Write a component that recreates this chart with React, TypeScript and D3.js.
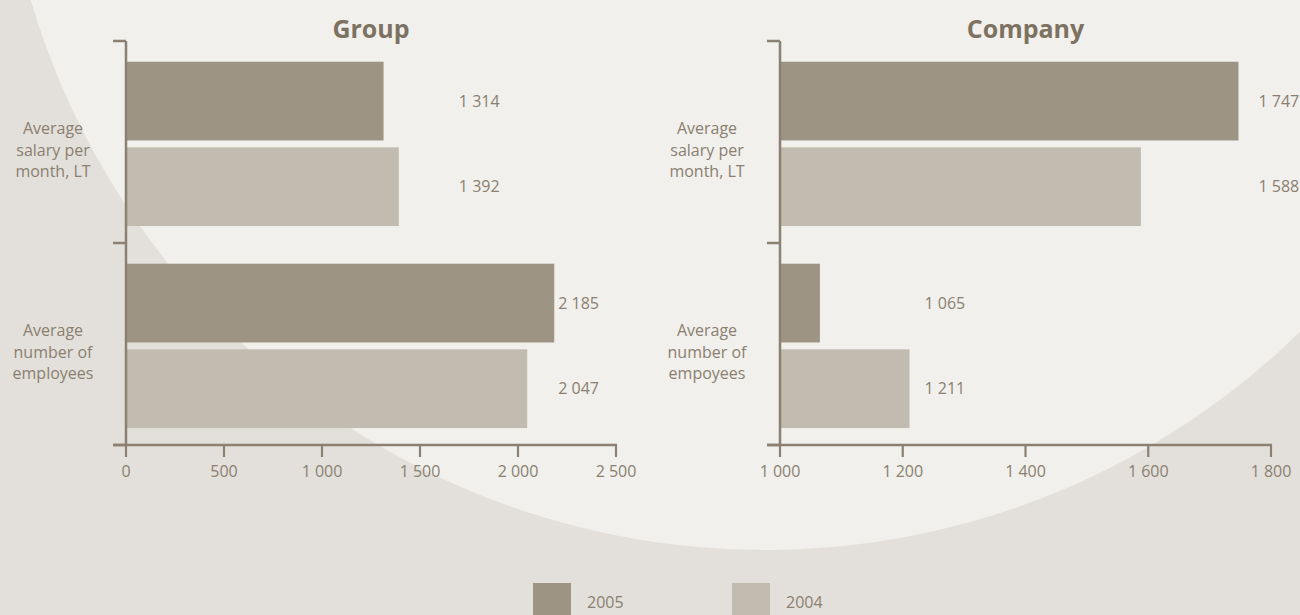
import { formatLocale, max, scaleBand, scaleLinear } from 'd3';

const series = ['2005', '2004'];
const categories = ['salary', 'employees'];

const groupCategoryLines = [
  ['Average', 'salary per', 'month, LT'],
  ['Average', 'number of', 'employees'],
];
const companyCategoryLines = [
  ['Average', 'salary per', 'month, LT'],
  ['Average', 'number of', 'empoyees'],
];

const group2005 = [1314, 2185];
const group2004 = [1392, 2047];
const company2005 = [1747, 1065];
const company2004 = [1588, 1211];

const groupTicks = [0, 500, 1000, 1500, 2000, 2500];
const companyTicks = [1000, 1200, 1400, 1600, 1800];

const W = 1300;
const H = 615;
const FONT = "'Open Sans', 'Liberation Sans', sans-serif";
const TEXT = '#8a7f70';
const AXIS = '#8b8071';
const COLORS = ['#9d9484', '#c2bbaf'];

const fmt = formatLocale({
  decimal: '.',
  thousands: ' ',
  grouping: [3],
  currency: ['', ''],
}).format(',d');

type PanelProps = {
  title: string;
  left: number;
  right: number;
  domain: [number, number];
  ticks: number[];
  lines: string[][];
  values: number[][];
  labelGap: number[];
};

function Panel(props: PanelProps) {
  const { title, left, right, domain, ticks, lines, values, labelGap } = props;
  const top = 41;
  const bottom = 445;

  const x = scaleLinear().domain(domain).range([left, right]);
  const y = scaleBand<string>().domain(categories).range([top, bottom]);
  const inner = scaleBand<string>()
    .domain(series)
    .range([0, y.bandwidth()])
    .paddingInner(0.08)
    .paddingOuter(0.22)
    .align(0.55);

  return (
    <g>
      <text
        x={(left + right) / 2}
        y={38}
        textAnchor='middle'
        fontFamily={FONT}
        fontWeight='bold'
        fontSize={25}
        fill='#7d7262'>
        {title}
      </text>

      {categories.map((c, ci) => (
        <g key={c}>
          {series.map((s, si) => (
            <rect
              key={s}
              x={x(domain[0])}
              y={y(c)! + inner(s)!}
              width={x(values[si][ci]) - x(domain[0])}
              height={inner.bandwidth()}
              fill={COLORS[si]}
            />
          ))}
          {series.map((s, si) => (
            <text
              key={s}
              x={x(max(values, (v) => v[ci])!) + labelGap[ci]}
              y={y(c)! + inner(s)! + inner.bandwidth() / 2}
              dy='0.35em'
              fontFamily={FONT}
              fontSize={16}
              fill={TEXT}>
              {fmt(values[si][ci])}
            </text>
          ))}
          {lines[ci].map((t, li) => (
            <text
              key={li}
              x={left - 73}
              y={y(c)! + y.bandwidth() / 2 + 13.5 + (li - 1) * 21.5}
              textAnchor='middle'
              fontFamily={FONT}
              fontSize={16}
              fill={TEXT}>
              {t}
            </text>
          ))}
        </g>
      ))}

      {/* y axis */}
      <line x1={left} x2={left} y1={top} y2={bottom} stroke={AXIS} strokeWidth={2.5} />
      {[...categories.map((c) => y(c)!), bottom].map((ty, i) => (
        <line key={i} x1={left - 13} x2={left} y1={ty} y2={ty} stroke={AXIS} strokeWidth={2.5} />
      ))}

      {/* x axis */}
      <line x1={left - 13} x2={right + 1} y1={bottom} y2={bottom} stroke={AXIS} strokeWidth={2.5} />
      {ticks.map((t) => (
        <g key={t} transform={`translate(${x(t)},${bottom})`}>
          <line y1={0} y2={12} stroke={AXIS} strokeWidth={2.2} />
          <text
            y={32}
            textAnchor='middle'
            fontFamily={FONT}
            fontSize={16}
            fill={TEXT}>
            {fmt(t)}
          </text>
        </g>
      ))}
    </g>
  );
}

export default function App() {
  const legendX = [533, 732];
  return (
    <svg
      width={W}
      height={H}
      style={{ position: 'absolute', left: 0, top: 0, display: 'block' }}>
      <rect width={W} height={H} fill='#e3e0db' />
      <circle cx={765} cy={-215} r={765} fill='#f1f0ec' />

      <Panel
        title='Group'
        left={126}
        right={616}
        domain={[0, 2500]}
        ticks={groupTicks}
        lines={groupCategoryLines}
        values={[group2005, group2004]}
        labelGap={[60, 4]}
      />
      <Panel
        title='Company'
        left={780}
        right={1271}
        domain={[1000, 1800]}
        ticks={companyTicks}
        lines={companyCategoryLines}
        values={[company2005, company2004]}
        labelGap={[20, 15]}
      />

      {series.map((s, i) => (
        <g key={s}>
          <rect x={legendX[i]} y={583} width={38} height={38} fill={COLORS[i]} />
          <text
            x={legendX[i] + 54}
            y={608}
            fontFamily={FONT}
            fontSize={16}
            fill={TEXT}>
            {s}
          </text>
        </g>
      ))}
    </svg>
  );
}
